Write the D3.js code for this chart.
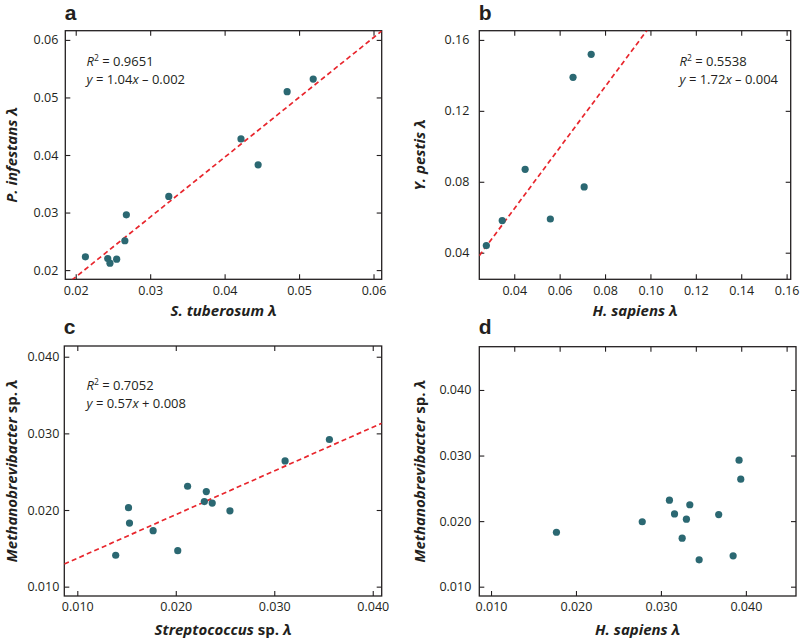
<!DOCTYPE html>
<html>
<head>
<meta charset="utf-8">
<script src="https://cdn.jsdelivr.net/npm/d3@7"></script>
<style>
    body { margin: 0; background: #fff; }
    svg { display: block; font-family: 'Open Sans', sans-serif; }
    .tick line { stroke: #231f20; stroke-width: 1.1; }
    .tick text { fill: #231f20; font-size: 12.5px; font-family: 'Open Sans', sans-serif; }
</style>
</head>
<body>
<div id="chart"></div>
<script>
// Panel a: S. tuberosum vs P. infestans
const aX = [0.0213, 0.0243, 0.0246, 0.0255, 0.0266, 0.0268, 0.0325, 0.0422, 0.0445, 0.0484, 0.0519];
const aY = [0.0223, 0.0220, 0.0212, 0.0219, 0.0251, 0.0296, 0.0328, 0.0428, 0.0383, 0.0510, 0.0532];
const aTicks = [0.02, 0.03, 0.04, 0.05, 0.06];

// Panel b: H. sapiens vs Y. pestis
const bX = [0.0277, 0.0347, 0.0448, 0.0559, 0.0659, 0.0708, 0.0739];
const bY = [0.0440, 0.0581, 0.0870, 0.0590, 0.1389, 0.0771, 0.1519];
const bXTicks = [0.04, 0.06, 0.08, 0.10, 0.12, 0.14, 0.16];
const bYTicks = [0.04, 0.08, 0.12, 0.16];

// Panel c: Streptococcus sp. vs Methanobrevibacter sp.
const cX = [0.0139, 0.0152, 0.0153, 0.0177, 0.0202, 0.0212, 0.0229, 0.0231, 0.0237, 0.0255, 0.0311, 0.0356];
const cY = [0.0141, 0.0203, 0.0183, 0.0173, 0.0147, 0.0231, 0.0211, 0.0224, 0.0209, 0.0199, 0.0264, 0.0292];

// Panel d: H. sapiens vs Methanobrevibacter sp.
const dX = [0.0177, 0.0278, 0.0310, 0.0316, 0.0325, 0.0330, 0.0334, 0.0345, 0.0368, 0.0385, 0.0392, 0.0394];
const dY = [0.0183, 0.0199, 0.0232, 0.0211, 0.0174, 0.0203, 0.0225, 0.0141, 0.0210, 0.0147, 0.0293, 0.0264];
const cdTicks = [0.010, 0.020, 0.030, 0.040];

// Regression fits [slope, intercept] and their labels
const aFit = [1.04, -0.002];
const bFit = [1.72, -0.004];
const cFit = [0.57, 0.008];
const aStats = ['0.9651', '1.04', '–', '0.002'];
const bStats = ['0.5538', '1.72', '–', '0.004'];
const cStats = ['0.7052', '0.57', '+', '0.008'];

const DOT = '#2b6872';
const RED = '#e8262d';
const INK = '#231f20';

const svg = d3.select('#chart')
    .append('svg')
    .attr('width', 800)
    .attr('height', 639);

const defs = svg.append('defs');

function drawPanel(p) {
    const w = p.right - p.left;
    const h = p.bottom - p.top;
    const g = svg.append('g')
        .attr('transform', `translate(${p.left},${p.top})`);

    const x = d3.scaleLinear().domain(p.xDomain).range([0, w]);
    const y = d3.scaleLinear().domain(p.yDomain).range([h, 0]);

    // clip for the fit line
    defs.append('clipPath')
        .attr('id', 'clip-' + p.id)
        .append('rect')
        .attr('width', w)
        .attr('height', h);

    // inward ticks on all four sides
    g.append('g')
        .attr('transform', `translate(0,${h})`)
        .call(d3.axisBottom(x).tickValues(p.xTicks).tickFormat(d3.format(p.fmt))
            .tickSize(-5).tickPadding(6.5))
        .call(a => a.select('.domain').remove());
    g.append('g')
        .call(d3.axisLeft(y).tickValues(p.yTicks).tickFormat(d3.format(p.fmt))
            .tickSize(-5).tickPadding(p.yPad))
        .call(a => a.select('.domain').remove());
    const xTop = p.topScale || x;
    g.append('g')
        .call(d3.axisTop(xTop).tickValues(p.topTicks || p.xTicks).tickFormat('').tickSize(-5))
        .call(a => a.select('.domain').remove());
    g.append('g')
        .attr('transform', `translate(${w},0)`)
        .call(d3.axisRight(y).tickValues(p.yTicks).tickFormat('').tickSize(-5))
        .call(a => a.select('.domain').remove());

    // frame
    g.append('rect')
        .attr('width', w)
        .attr('height', h)
        .attr('fill', 'none')
        .attr('stroke', INK)
        .attr('stroke-width', 1.3);

    // dashed regression line
    if (p.fit) {
        const ends = p.xDomain.map(v => [v, p.fit[0] * v + p.fit[1]]);
        g.append('path')
            .attr('clip-path', `url(#clip-${p.id})`)
            .attr('d', d3.line().x(d => x(d[0])).y(d => y(d[1]))(ends))
            .attr('fill', 'none')
            .attr('stroke', RED)
            .attr('stroke-width', 1.7)
            .attr('stroke-dasharray', '5,3.2');
    }

    // points
    g.selectAll('.dot')
        .data(p.xs.map((v, i) => [v, p.ys[i]]))
        .enter()
        .append('circle')
        .attr('class', 'dot')
        .attr('cx', d => x(d[0]))
        .attr('cy', d => y(d[1]))
        .attr('r', 3.6)
        .attr('fill', DOT);

    // R2 and equation
    if (p.stats) {
        const t1 = svg.append('text')
            .attr('x', p.annX)
            .attr('y', p.annY)
            .attr('fill', INK)
            .attr('font-size', 13);
        t1.append('tspan').attr('font-style', 'italic').text('R');
        t1.append('tspan').attr('font-size', 8.5).attr('dy', -5).text('2');
        t1.append('tspan').attr('dy', 5).text(' = ' + p.stats[0]);

        const t2 = svg.append('text')
            .attr('x', p.annX)
            .attr('y', p.annY + 17.5)
            .attr('fill', INK)
            .attr('font-size', 13);
        t2.append('tspan').attr('font-style', 'italic').text('y');
        t2.append('tspan').text(' = ' + p.stats[1]);
        t2.append('tspan').attr('font-style', 'italic').text('x');
        t2.append('tspan').text(` ${p.stats[2]} ${p.stats[3]}`);
    }

    // panel letter
    svg.append('text')
        .attr('x', p.left - 0.5)
        .attr('y', p.letterY)
        .attr('font-family', "'Liberation Sans', Arial, sans-serif")
        .attr('font-size', 21)
        .attr('font-weight', 700)
        .attr('fill', INK)
        .text(p.id);

    // axis titles
    const xt = svg.append('text')
        .attr('x', p.left + w / 2)
        .attr('y', p.xTitleY)
        .attr('text-anchor', 'middle')
        .attr('font-size', 15)
        .attr('font-weight', 700)
        .attr('fill', INK);
    p.xTitle.forEach(s => xt.append('tspan').attr('font-style', s[1] ? 'italic' : 'normal').text(s[0]));

    const yt = svg.append('text')
        .attr('transform', `translate(${p.yTitleX},${p.top + h / 2}) rotate(-90)`)
        .attr('text-anchor', 'middle')
        .attr('font-size', 15)
        .attr('font-weight', 700)
        .attr('fill', INK);
    p.yTitle.forEach(s => yt.append('tspan').attr('font-style', s[1] ? 'italic' : 'normal').text(s[0]));
}

drawPanel({
    id: 'a', left: 65.3, right: 381.7, top: 30.7, bottom: 279.3,
    xDomain: [0.0186, 0.0611], yDomain: [0.0184, 0.0616],
    xTicks: aTicks, yTicks: aTicks, fmt: '.2f', yPad: 7,
    xs: aX, ys: aY, fit: aFit, stats: aStats, annX: 86.5, annY: 66,
    letterY: 19.5, xTitleY: 316, yTitleX: 16.5,
    xTitle: [['S. tuberosum ', true], ['λ', true]],
    yTitle: [['P. infestans ', true], ['λ', true]]
});

drawPanel({
    id: 'b', left: 479.3, right: 790.7, top: 30.7, bottom: 279.3,
    xDomain: [0.0246, 0.1618], yDomain: [0.025, 0.1652],
    xTicks: bXTicks, yTicks: bYTicks, fmt: '.2f', yPad: 10,
    xs: bX, ys: bY, fit: bFit, stats: bStats, annX: 679.5, annY: 66,
    letterY: 19.5, xTitleY: 316, yTitleX: 425,
    xTitle: [['H. sapiens ', true], ['λ', true]],
    yTitle: [['Y. pestis ', true], ['λ', true]]
});

drawPanel({
    id: 'c', left: 64.3, right: 381.7, top: 346, bottom: 596,
    xDomain: [0.00868, 0.04091], yDomain: [0.00878, 0.0414],
    xTicks: cdTicks, yTicks: cdTicks, fmt: '.3f', yPad: 5,
    xs: cX, ys: cY, fit: cFit, stats: cStats, annX: 86.5, annY: 390,
    letterY: 334, xTitleY: 635, yTitleX: 16.5,
    xTitle: [['Streptococcus', true], [' sp. ', false], ['λ', true]],
    yTitle: [['Methanobrevibacter', true], [' sp. ', false], ['λ', true]]
});

// panel d carries panel b's tick marks along its top edge
drawPanel({
    id: 'd', left: 479.3, right: 796, top: 346.7, bottom: 596,
    xDomain: [0.00862, 0.0459], yDomain: [0.00858, 0.0466],
    xTicks: cdTicks, yTicks: cdTicks, fmt: '.3f', yPad: 8,
    topScale: d3.scaleLinear().domain([0.0246, 0.1618]).range([0, 790.7 - 479.3]),
    topTicks: bXTicks,
    xs: dX, ys: dY, fit: null, stats: null,
    letterY: 334, xTitleY: 635, yTitleX: 425,
    xTitle: [['H. sapiens ', true], ['λ', true]],
    yTitle: [['Methanobrevibacter', true], [' sp. ', false], ['λ', true]]
});
</script>
</body>
</html>
